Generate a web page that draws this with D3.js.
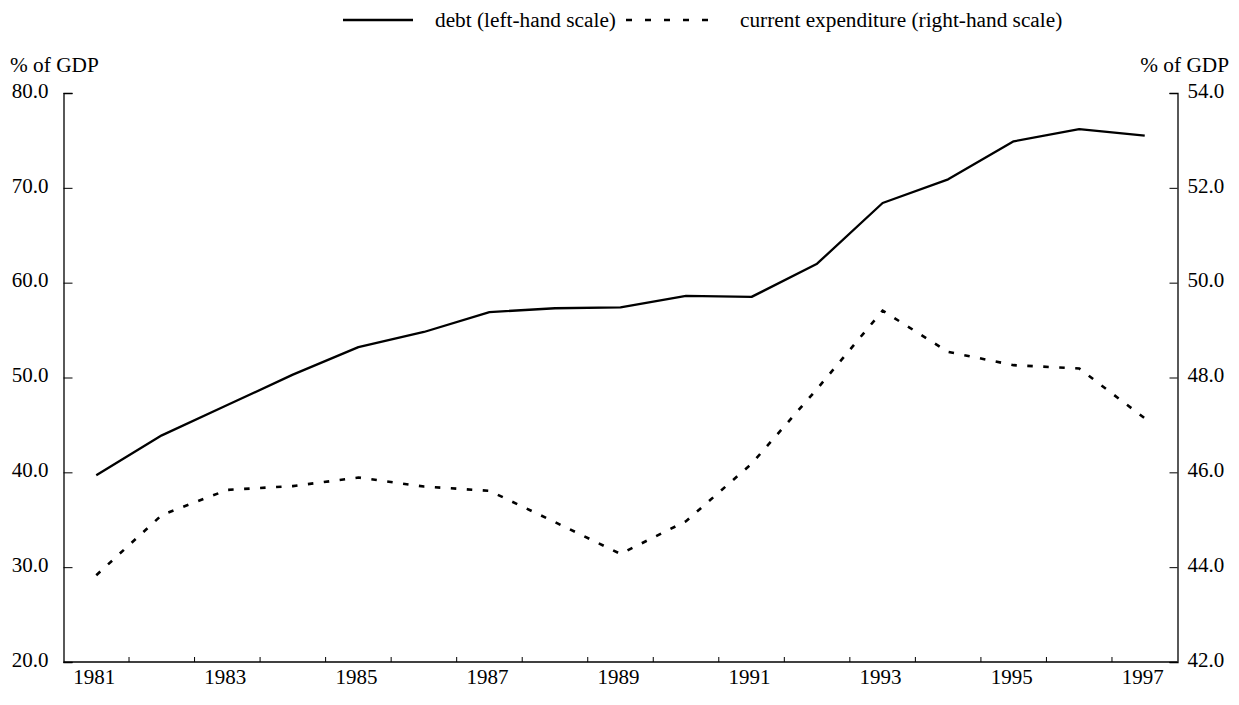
<!DOCTYPE html>
<html>
<head>
<meta charset="utf-8">
<script src="https://cdn.jsdelivr.net/npm/d3@7"></script>
<style>
  html, body { margin: 0; padding: 0; background: #fff; }
  svg text { font-family: "Liberation Serif", "Times New Roman", serif; fill: #000; }
</style>
</head>
<body>
<svg id="chart" width="1239" height="705"></svg>
<script>
// Years on the horizontal axis
const years = [1981, 1982, 1983, 1984, 1985, 1986, 1987, 1988, 1989,
               1990, 1991, 1992, 1993, 1994, 1995, 1996, 1997];
// General government debt, % of GDP (left-hand scale)
const debt = [39.7, 43.9, 47.1, 50.3, 53.2, 54.8, 56.9, 57.3, 57.4,
              58.6, 58.5, 62.0, 68.4, 70.9, 74.9, 76.2, 75.5];
// Current expenditure, % of GDP (right-hand scale)
const expenditure = [43.83, 45.10, 45.63, 45.71, 45.89, 45.70, 45.61, 44.95, 44.28,
                     44.97, 46.18, 47.76, 49.41, 48.54, 48.26, 48.19, 47.14];
// Axis ticks
const leftTicks = [20, 30, 40, 50, 60, 70, 80];
const rightTicks = [42, 44, 46, 48, 50, 52, 54];
const yearLabels = [1981, 1983, 1985, 1987, 1989, 1991, 1993, 1995, 1997];
const legendItems = ["debt (left-hand scale)", "current expenditure (right-hand scale)"];
const axisTitle = "% of GDP";

const svg = d3.select("#chart");
const plotLeft = 63.5, plotRight = 1177.5, plotTop = 93, plotBottom = 662;
const dashPattern = "5.5,10.5";

const x = d3.scaleBand().domain(years).range([plotLeft, plotRight]);
const yL = d3.scaleLinear().domain([20, 80]).range([plotBottom, plotTop]);
const yR = d3.scaleLinear().domain([42, 54]).range([plotBottom, plotTop]);
const cx = d => x(d) + x.bandwidth() / 2;

// Left axis
const gL = svg.append("g").attr("transform", `translate(${plotLeft},0)`)
  .call(d3.axisLeft(yL).tickValues(leftTicks).tickSize(-9).tickPadding(15)
        .tickFormat(d3.format(".1f")));
// Right axis
const gR = svg.append("g").attr("transform", `translate(${plotRight},0)`)
  .call(d3.axisRight(yR).tickValues(rightTicks).tickSize(-8).tickPadding(10)
        .tickFormat(d3.format(".1f")));
// Bottom axis: ticks on category boundaries, labels every other year
const boundaries = years.slice(1).map(d => x(d));
const gB = svg.append("g").attr("transform", `translate(0,${plotBottom})`);
gB.append("line").attr("x1", plotLeft).attr("x2", plotRight).attr("stroke", "#000").attr("stroke-width", 1.3);
gB.selectAll("line.tk").data(boundaries).join("line").attr("class", "tk")
  .attr("x1", d => d).attr("x2", d => d).attr("y1", 0).attr("y2", -5)
  .attr("stroke", "#000").attr("stroke-width", 1);
gB.selectAll("text").data(yearLabels).join("text")
  .attr("x", d => cx(d) - 2).attr("y", 21.5).attr("text-anchor", "middle")
  .attr("font-size", 21).text(d => d);

[gL, gR].forEach(g => {
  g.select(".domain").attr("stroke", "#000").attr("stroke-width", 1.3);
  g.selectAll(".tick line").attr("stroke", "#000").attr("stroke-width", 1);
  g.selectAll(".tick text").attr("font-size", 21).attr("dy", "0.2em")
    .style("font-family", '"Liberation Serif", serif');
});

// Axis titles
svg.append("text").attr("x", 10).attr("y", 72).attr("font-size", 21.3).text(axisTitle);
svg.append("text").attr("x", 1229).attr("y", 72).attr("text-anchor", "end")
  .attr("font-size", 21.3).text(axisTitle);

// Series lines
const lineL = d3.line().x((d, i) => cx(years[i])).y(d => yL(d));
const lineR = d3.line().x((d, i) => cx(years[i])).y(d => yR(d));
svg.append("path").datum(debt).attr("d", lineL)
  .attr("fill", "none").attr("stroke", "#000").attr("stroke-width", 2.3)
  .attr("stroke-linejoin", "round");
svg.append("path").datum(expenditure).attr("d", lineR)
  .attr("fill", "none").attr("stroke", "#000").attr("stroke-width", 2.6)
  .attr("stroke-dasharray", dashPattern);

// Legend
const lg = svg.append("g");
lg.append("line").attr("x1", 343).attr("x2", 413).attr("y1", 20).attr("y2", 20)
  .attr("stroke", "#000").attr("stroke-width", 2.3);
lg.append("text").attr("x", 435).attr("y", 27).attr("font-size", 21.3).text(legendItems[0]);
lg.append("line").attr("x1", 626).attr("x2", 718).attr("y1", 20).attr("y2", 20)
  .attr("stroke", "#000").attr("stroke-width", 2.6).attr("stroke-dasharray", "6,13");
lg.append("text").attr("x", 740).attr("y", 27).attr("font-size", 21.3).text(legendItems[1]);
</script>
</body>
</html>
